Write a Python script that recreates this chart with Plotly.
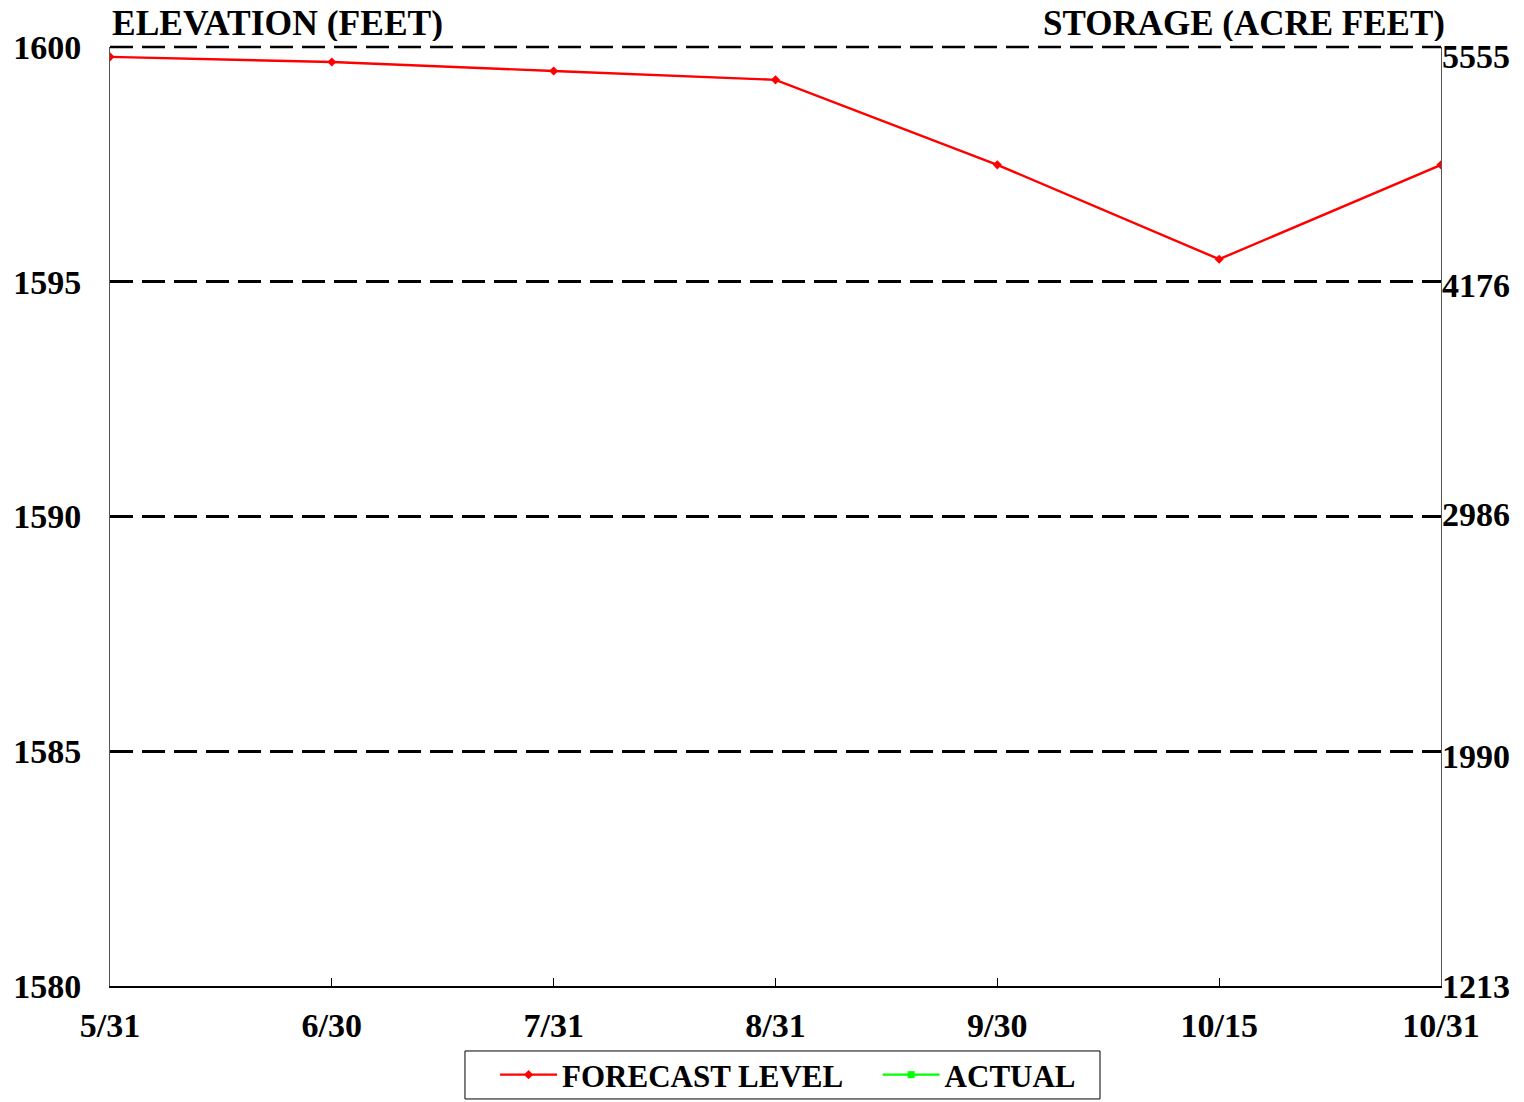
import plotly.graph_objects as go

dates = ["5/31", "6/30", "7/31", "8/31", "9/30", "10/15", "10/31"]
forecast = [1599.79, 1599.68, 1599.49, 1599.30, 1597.49, 1595.48, 1597.49]
actual_x = ["5/31"]
actual_y = [None]
elev_ticks = [1580, 1585, 1590, 1595, 1600]
storage_labels = ["1213", "1990", "2986", "4176", "5555"]
storage_label_pos = [1580.0, 1584.88, 1590.05, 1594.93, 1599.79]

FONT = "Liberation Serif"
GAP = "\u00a0" * 3 + "\u2009"

fig = go.Figure()
fig.add_trace(go.Scatter(
    x=dates, y=forecast, mode="lines+markers", name="<b>FORECAST LEVEL</b>" + GAP,
    line=dict(color="#ff0000", width=2.4),
    marker=dict(symbol="diamond", size=7, color="#ff0000"),
))
fig.add_trace(go.Scatter(
    x=actual_x, y=actual_y, mode="lines+markers", name="<b>ACTUAL</b>",
    line=dict(color="#00ff00", width=2.4),
    marker=dict(symbol="square", size=7, color="#00ff00"),
))

annotations = []
for lab, pos in zip(storage_labels, storage_label_pos):
    annotations.append(dict(
        x=1.0, xref="paper", y=pos, yref="y", text="<b>%s</b>" % lab,
        showarrow=False, xanchor="left", yanchor="middle", xshift=-1,
        font=dict(family=FONT, size=34, color="black"),
    ))
annotations.append(dict(
    x=0.0, xref="paper", y=1.0, yref="paper", text="<b>ELEVATION (FEET)</b>",
    showarrow=False, xanchor="left", yanchor="bottom", xshift=0, yshift=4,
    height=36, valign="middle",
    font=dict(family=FONT, size=35.5, color="black"),
))
annotations.append(dict(
    x=1.0, xref="paper", y=1.0, yref="paper", text="<b>STORAGE (ACRE FEET)</b>",
    showarrow=False, xanchor="right", yanchor="bottom", xshift=6, yshift=4,
    height=36, valign="middle",
    font=dict(family=FONT, size=35, color="black"),
))

# dashed grid line along the top edge (paper-referenced so it is not clipped)
fig.add_shape(type="line", xref="paper", yref="paper", x0=0, x1=1, y0=1, y1=1,
              line=dict(color="black", width=2.5, dash="23px,9px"), layer="above")
# legend frame
fig.add_shape(type="rect", xref="paper", yref="paper",
              x0=0.2667, x1=0.7438, y0=-0.1203, y1=-0.0692,
              line=dict(color="black", width=1), fillcolor="rgba(0,0,0,0)")

fig.update_layout(
    width=1516, height=1094,
    margin=dict(l=102, r=83, t=39, b=116, autoexpand=False),
    paper_bgcolor="white", plot_bgcolor="white",
    font=dict(family=FONT, size=34, color="black"),
    showlegend=True,
    legend=dict(
        orientation="h", x=0.2893, xanchor="left", y=-0.0948, yanchor="middle",
        borderwidth=0, bgcolor="rgba(0,0,0,0)",
        font=dict(family=FONT, size=31, color="black"),
        itemwidth=57,
    ),
    annotations=annotations,
    xaxis=dict(
        type="category", range=[0, 6], showgrid=False, automargin=False,
        showline=True, linecolor="black", linewidth=2,
        ticks="inside", ticklen=8, tickcolor="black", tickwidth=1,
        tickfont=dict(family=FONT, size=34, color="black"),
        ticklabelstandoff=8,
        tickprefix="<b>", ticksuffix="</b>",
        zeroline=False,
    ),
    yaxis=dict(
        range=[1580, 1600], tickvals=elev_ticks, automargin=False,
        ticktext=["<b>%d</b>" % v for v in elev_ticks],
        showgrid=True, gridcolor="black", gridwidth=2.5, griddash="23px,9px",
        showline=True, linecolor="#555555", linewidth=1, mirror=True,
        ticks="", ticklabelstandoff=21,
        tickfont=dict(family=FONT, size=34, color="black"),
        zeroline=False,
    ),
)

fig.write_html("out.html")
